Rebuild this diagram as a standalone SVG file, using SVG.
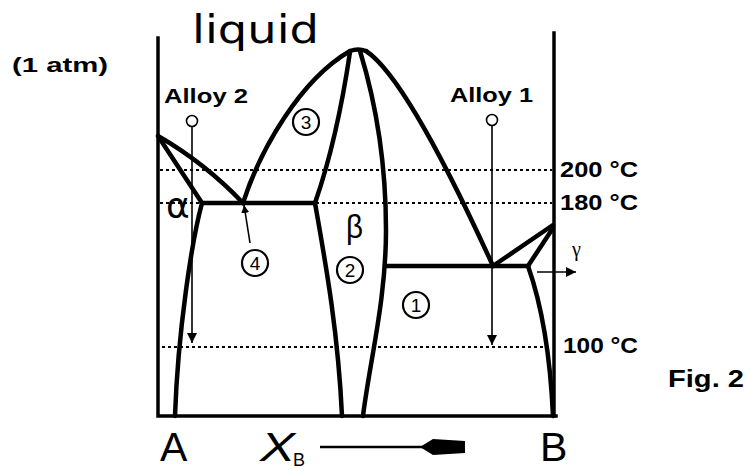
<svg xmlns="http://www.w3.org/2000/svg" width="745" height="470" viewBox="0 0 745 470">
<style>
.ax{fill:none;stroke:#000;stroke-width:3.5;stroke-linecap:square}
.cv{fill:none;stroke:#000;stroke-width:4.5;stroke-linecap:round;stroke-linejoin:round}
.dot{fill:none;stroke:#000;stroke-width:2;stroke-dasharray:3 3}
.thin{fill:none;stroke:#000;stroke-width:1.6}
.lbl{font-family:"Liberation Sans",Arial,sans-serif;font-weight:bold;fill:#000}
.big{font-family:"Liberation Sans",Arial,sans-serif;fill:#000}
.num circle{fill:none;stroke:#000;stroke-width:2.2}
.num text{font-family:"Liberation Sans",Arial,sans-serif;font-size:19px;text-anchor:middle;fill:#000}
</style>
<defs>
<marker id="ah" viewBox="0 0 10 10" refX="10" refY="5" markerWidth="8" markerHeight="8" markerUnits="userSpaceOnUse" orient="auto"><path d="M0,0 L10,5 L0,10 z" fill="#000"/></marker>
<marker id="ahL" viewBox="0 0 10 10" refX="10" refY="5" markerWidth="12" markerHeight="10" markerUnits="userSpaceOnUse" orient="auto"><path d="M0,0 L10,5 L0,10 z" fill="#000"/></marker>
</defs>
<rect width="745" height="470" fill="#fff"/>

<g id="axes">
<path class="ax" d="M158,38 V416 H556"/>
<path class="ax" d="M554,33 V416"/>
</g>

<g id="isotherms">
<path class="dot" d="M160,170 H552"/>
<path class="dot" d="M160,203 H552"/>
<path class="dot" d="M162,347 H552"/>
</g>

<g id="phase-boundaries">
<path class="cv" d="M158,136 Q205,163 243,203"/>
<path class="cv" d="M158,136 L202,203"/>
<path class="cv" d="M202,203 H315"/>
<path class="cv" d="M202,203 C192,240 178,330 175,416"/>
<path class="cv" d="M243,203 C260,150 300,80 350,51"/>
<path class="cv" d="M350,51 Q358,48 366,51"/>
<path class="cv" d="M350,52 Q337,140 315,203"/>
<path class="cv" d="M315,203 C325,260 338,330 342,416"/>
<path class="cv" d="M360,51 C375,100 386,160 386,230 C386,300 370,360 363,416"/>
<path class="cv" d="M366,51 C395,70 440,150 493,266"/>
<path class="cv" d="M386,266 H528"/>
<path class="cv" d="M553,225 L493,266"/>
<path class="cv" d="M553,228 L528,266"/>
<path class="cv" d="M528,266 C540,300 550,350 553,416"/>
</g>

<g id="connectors">
<path class="thin" d="M192,127 V343" marker-end="url(#ahL)"/>
<path class="thin" d="M492,126 V345" marker-end="url(#ahL)"/>
<path class="thin" d="M250,243 L244,205" marker-end="url(#ah)"/>
<path class="thin" d="M537,272 H576" marker-end="url(#ahL)"/>
<path d="M320,447 H425" stroke="#000" stroke-width="2.5"/>
<path d="M420,447 L433,439 L465,441 L465,453 L433,455 z" fill="#000"/>
</g>

<g id="alloy2">
<circle cx="192" cy="121" r="5.5" fill="#fff" stroke="#000" stroke-width="1.6"/>
<text class="lbl" x="164" y="103" font-size="20" textLength="84" lengthAdjust="spacingAndGlyphs">Alloy 2</text>
</g>
<g id="alloy1">
<circle cx="492" cy="120" r="5.5" fill="#fff" stroke="#000" stroke-width="1.6"/>
<text class="lbl" x="450" y="102" font-size="20" textLength="83" lengthAdjust="spacingAndGlyphs">Alloy 1</text>
</g>

<g id="n3" class="num"><circle cx="306" cy="122" r="13"/><text x="306" y="129">3</text></g>
<g id="n2" class="num"><circle cx="350" cy="270" r="13"/><text x="350" y="277">2</text></g>
<g id="n1" class="num"><circle cx="416" cy="305" r="13"/><text x="416" y="312">1</text></g>
<g id="n4" class="num"><circle cx="255" cy="263" r="13"/><text x="255" y="270">4</text></g>

<g id="labels">
<text x="192" y="43" font-family="DejaVu Sans, sans-serif" font-size="39" textLength="127" lengthAdjust="spacingAndGlyphs">liquid</text>
<text class="lbl" x="12" y="72" font-size="21" textLength="96" lengthAdjust="spacingAndGlyphs">(1 atm)</text>
<text class="lbl" x="560" y="177" font-size="22" textLength="78" lengthAdjust="spacingAndGlyphs">200 °C</text>
<text class="lbl" x="560" y="210" font-size="22" textLength="78" lengthAdjust="spacingAndGlyphs">180 °C</text>
<text class="lbl" x="563" y="353" font-size="22" textLength="75" lengthAdjust="spacingAndGlyphs">100 °C</text>
<text class="lbl" x="668" y="387" font-size="23" textLength="76" lengthAdjust="spacingAndGlyphs">Fig. 2</text>
<text x="166" y="218" font-family="DejaVu Sans, sans-serif" font-size="36">α</text>
<text x="346" y="238" font-family="Liberation Sans, sans-serif" font-size="34" textLength="17" lengthAdjust="spacingAndGlyphs">β</text>
<text x="572" y="256" font-family="Liberation Serif, serif" font-size="20">γ</text>
<text class="big" x="160" y="461" font-size="41">A</text>
<text class="big" x="540" y="461" font-size="41">B</text>
<text class="big" x="260" y="461" font-size="41" font-style="italic" textLength="35" lengthAdjust="spacingAndGlyphs">X</text>
<text class="big" x="293" y="466" font-size="18">B</text>
</g>
</svg>
